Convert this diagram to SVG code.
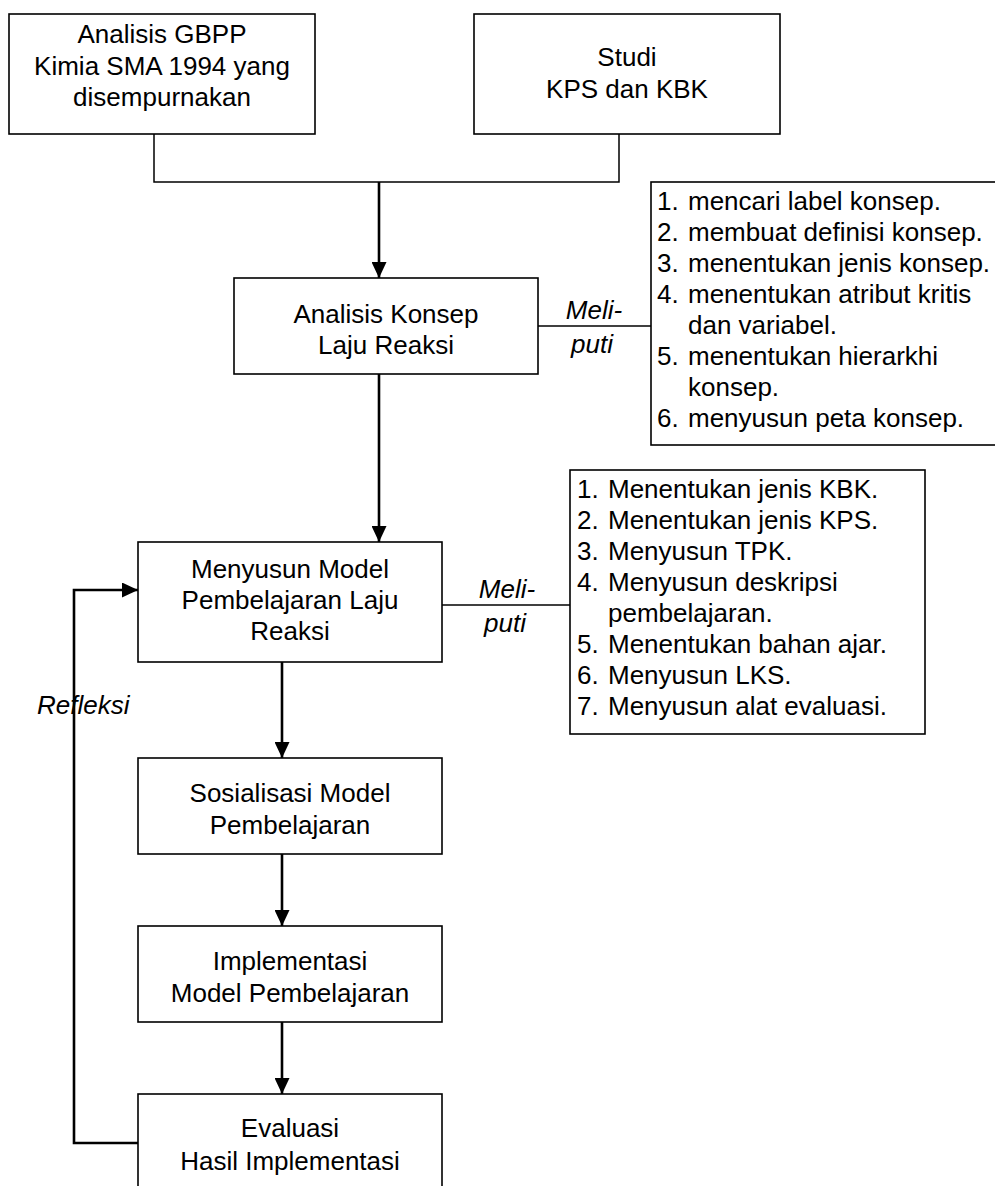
<svg xmlns="http://www.w3.org/2000/svg" width="995" height="1186" viewBox="0 0 995 1186">
<style>
.box{fill:#fff;stroke:#000;stroke-width:1.6}
.t{font-family:"Liberation Sans",Arial,sans-serif;font-size:26px;fill:#000}
.c{text-anchor:middle}
.i{font-style:italic}
.thin{fill:none;stroke:#000;stroke-width:1.5}
.arr{fill:none;stroke:#000;stroke-width:2.6}
</style>
<defs>
<marker id="ah" markerUnits="userSpaceOnUse" markerWidth="16" markerHeight="15" refX="16" refY="7.5" orient="auto">
<path d="M0,0 L16,7.5 L0,15 Z" fill="#000"/>
</marker>
</defs>
<rect width="995" height="1186" fill="#fff"/>
<g id="connectors">
<path class="thin" d="M154,134 V182 H619 V134"/>
<path class="arr" d="M379,182 V278" marker-end="url(#ah)"/>
<path class="arr" d="M379,374 V542" marker-end="url(#ah)"/>
<path class="thin" d="M538,326 H651"/>
<path class="thin" d="M442,605 H570"/>
<path class="arr" d="M282,662 V758" marker-end="url(#ah)"/>
<path class="arr" d="M282,854 V926" marker-end="url(#ah)"/>
<path class="arr" d="M282,1022 V1094" marker-end="url(#ah)"/>
<path class="arr" d="M138,1143 H74 V590 H138" marker-end="url(#ah)"/>
<text class="t i c" x="594" y="319">Meli-</text>
<text class="t i c" x="592" y="353">puti</text>
<text class="t i c" x="507" y="598">Meli-</text>
<text class="t i c" x="505" y="632">puti</text>
<text class="t i" x="37" y="714">Refleksi</text>
</g>
<g id="n-gbpp">
<rect class="box" x="9" y="14" width="306" height="120"/>
<text class="t c" x="162" y="43">Analisis GBPP</text>
<text class="t c" x="162" y="75">Kimia SMA 1994 yang</text>
<text class="t c" x="162" y="106">disempurnakan</text>
</g>
<g id="n-studi">
<rect class="box" x="474" y="14" width="306" height="120"/>
<text class="t c" x="627" y="66">Studi</text>
<text class="t c" x="627" y="98">KPS dan KBK</text>
</g>
<g id="n-analisis">
<rect class="box" x="234" y="278" width="304" height="96"/>
<text class="t c" x="386" y="323">Analisis Konsep</text>
<text class="t c" x="386" y="354">Laju Reaksi</text>
</g>
<g id="n-list1">
<rect class="box" x="651" y="182" width="360" height="263"/>
<text class="t" x="657" y="210">1.</text><text class="t" x="688" y="210">mencari label konsep.</text>
<text class="t" x="657" y="241">2.</text><text class="t" x="688" y="241">membuat definisi konsep.</text>
<text class="t" x="657" y="272">3.</text><text class="t" x="688" y="272">menentukan jenis konsep.</text>
<text class="t" x="657" y="303">4.</text><text class="t" x="688" y="303">menentukan atribut kritis</text>
<text class="t" x="688" y="334">dan variabel.</text>
<text class="t" x="657" y="365">5.</text><text class="t" x="688" y="365">menentukan hierarkhi</text>
<text class="t" x="688" y="396">konsep.</text>
<text class="t" x="657" y="427">6.</text><text class="t" x="688" y="427">menyusun peta konsep.</text>
</g>
<g id="n-menyusun">
<rect class="box" x="138" y="542" width="304" height="120"/>
<text class="t c" x="290" y="578">Menyusun Model</text>
<text class="t c" x="290" y="609">Pembelajaran Laju</text>
<text class="t c" x="290" y="640">Reaksi</text>
</g>
<g id="n-list2">
<rect class="box" x="570" y="470" width="355" height="264"/>
<text class="t" x="577" y="498">1.</text><text class="t" x="608" y="498">Menentukan jenis KBK.</text>
<text class="t" x="577" y="529">2.</text><text class="t" x="608" y="529">Menentukan jenis KPS.</text>
<text class="t" x="577" y="560">3.</text><text class="t" x="608" y="560">Menyusun TPK.</text>
<text class="t" x="577" y="591">4.</text><text class="t" x="608" y="591">Menyusun deskripsi</text>
<text class="t" x="608" y="622">pembelajaran.</text>
<text class="t" x="577" y="653">5.</text><text class="t" x="608" y="653">Menentukan bahan ajar.</text>
<text class="t" x="577" y="684">6.</text><text class="t" x="608" y="684">Menyusun LKS.</text>
<text class="t" x="577" y="715">7.</text><text class="t" x="608" y="715">Menyusun alat evaluasi.</text>
</g>
<g id="n-sosialisasi">
<rect class="box" x="138" y="758" width="304" height="96"/>
<text class="t c" x="290" y="802">Sosialisasi Model</text>
<text class="t c" x="290" y="834">Pembelajaran</text>
</g>
<g id="n-implementasi">
<rect class="box" x="138" y="926" width="304" height="96"/>
<text class="t c" x="290" y="970">Implementasi</text>
<text class="t c" x="290" y="1002">Model Pembelajaran</text>
</g>
<g id="n-evaluasi">
<rect class="box" x="138" y="1094" width="304" height="120"/>
<text class="t c" x="290" y="1137">Evaluasi</text>
<text class="t c" x="290" y="1170">Hasil Implementasi</text>
</g>
</svg>
